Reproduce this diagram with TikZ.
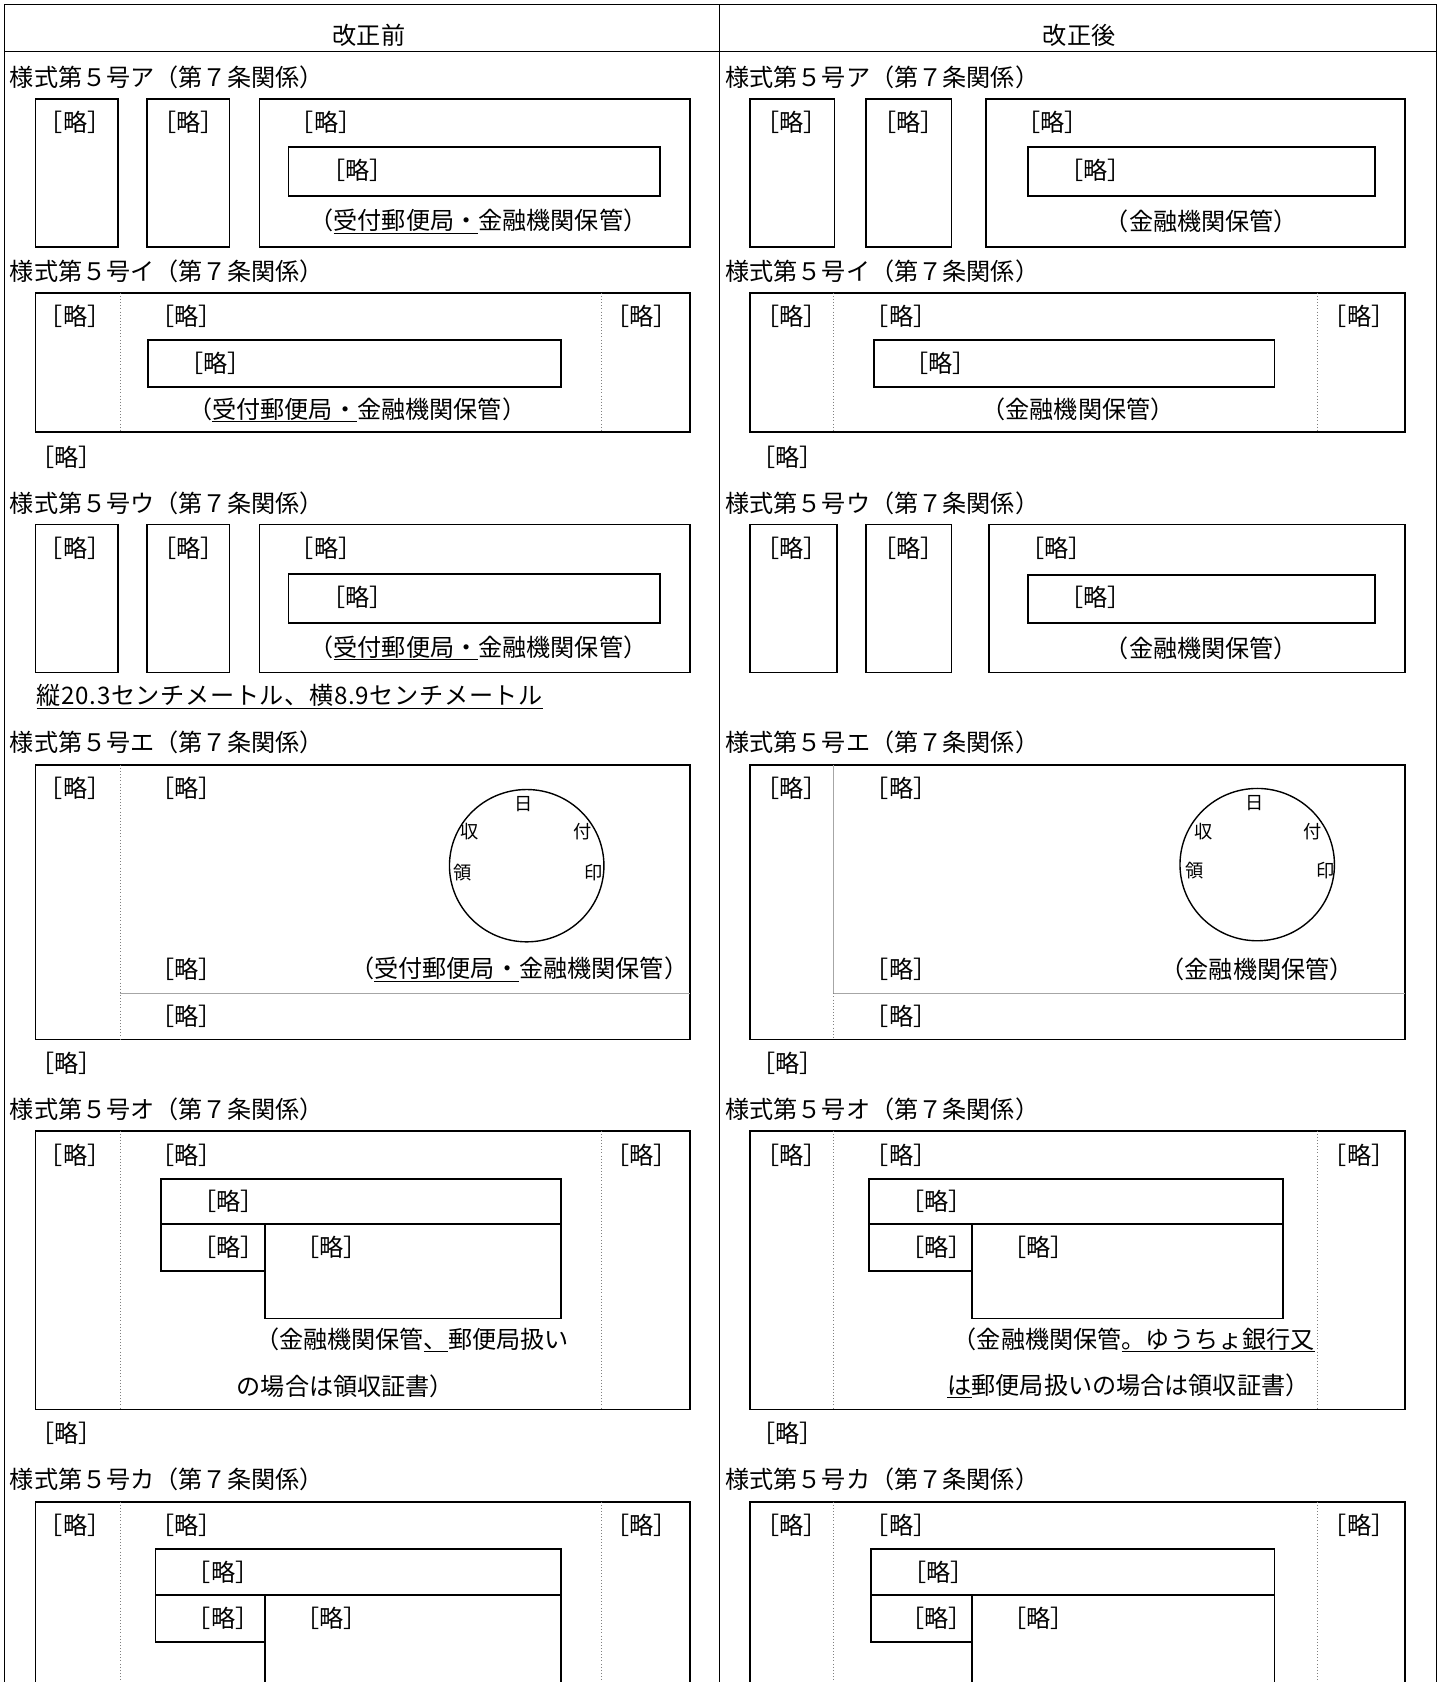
\documentclass[tikz,border=0pt]{standalone}
\usepackage{fontspec}
\setmainfont{Noto Sans CJK JP}
\newcommand\ryk{［略］}
\begin{document}
\begin{tikzpicture}[x=1pt,y=-1pt,
  frame/.style={line width=1.3pt},
  bx/.style={line width=1.6pt},
  sep/.style={dotted, gray, line width=0.9pt},
  gline/.style={gray!70, line width=1pt},
  t/.style={inner sep=0pt, font=\fontsize{22.5}{26}\selectfont},
  ttl/.style={t, anchor=west},
  sm/.style={inner sep=0pt, font=\fontsize{17}{19}\selectfont}]
\useasboundingbox (0,0) rectangle (1345,1568);
% outer table
\draw[frame] (4,1568) -- (4,4) -- (1339,4) -- (1339,1568);
\draw[frame] (671,4) -- (671,1568);
\draw[frame] (4,48) -- (1339,48);
\node[t] (hL) at (344,33) {改正前};
\node[t] (hR) at (1006,33) {改正後};

% ================= LEFT COLUMN =================
% --- ア
\node[ttl] (LtA) at (9,72) {様式第５号ア（第７条関係）};
\draw[bx] (33,92) rectangle (110,230);
\draw[bx] (137,92) rectangle (214,230);
\draw[bx] (242,92) rectangle (643,230);
\draw[bx] (269,137) rectangle (615,183);
\node[t] (LA1) at (70,114) {\ryk};
\node[t] (LA2) at (176,114) {\ryk};
\node[t] (LA3) at (304,114) {\ryk};
\node[t] (LA4) at (333,159) {\ryk};
\node[t] (LA5) at (446,206) {（\underline{受付郵便局・}金融機関保管）};
% --- イ
\node[ttl] (LtI) at (9,253) {様式第５号イ（第７条関係）};
\draw[bx] (33,273) rectangle (643,403);
\draw[sep] (112,273) -- (112,403);
\draw[sep] (561,273) -- (561,403);
\draw[bx] (138,317) rectangle (523,361);
\node[t] (LI1) at (70,295) {\ryk};
\node[t] (LI2) at (174,295) {\ryk};
\node[t] (LI3) at (598,295) {\ryk};
\node[t] (LI4) at (201,339) {\ryk};
\node[t] (LI5) at (333,382) {（\underline{受付郵便局・}金融機関保管）};
\node[t] (LI6) at (62,426) {\ryk};
% --- ウ
\node[ttl] (LtU) at (9,469) {様式第５号ウ（第７条関係）};
\draw[bx] (33,489) rectangle (110,627);
\draw[bx] (137,489) rectangle (214,627);
\draw[bx] (242,489) rectangle (643,627);
\draw[bx] (269,535) rectangle (615,581);
\node[t] (LU1) at (70,511) {\ryk};
\node[t] (LU2) at (176,511) {\ryk};
\node[t] (LU3) at (304,511) {\ryk};
\node[t] (LU4) at (333,557) {\ryk};
\node[t] (LU5) at (446,604) {（\underline{受付郵便局・}金融機関保管）};
\node[ttl] (LU6) at (34,649) {\addfontfeature{LetterSpace=2.8}\underline{縦20.3センチメートル、横8.9センチメートル}};
% --- エ
\node[ttl] (LtE) at (9,692) {様式第５号エ（第７条関係）};
\draw[bx] (33,713) rectangle (643,969);
\draw[sep] (112,713) -- (112,969);
\draw[gline] (112,926) -- (643,926);
\node[t] (LE1) at (70,735) {\ryk};
\node[t] (LE2) at (174,735) {\ryk};
\node[t] (LE3) at (174,904) {\ryk};
\node[t] (LE4) at (174,947) {\ryk};
\node[t] (LE5) at (484,904) {（\underline{受付郵便局・}金融機関保管）};
\node[t] (LE6) at (62,991) {\ryk};
\begin{scope}[shift={(491,807)}]
\draw[line width=1.3pt] (0,0) ellipse [x radius=72pt, y radius=71pt];
\node[sm] (LEc1) at (-3,-57) {日};
\node[sm] (LEc2) at (-53,-32) {収};
\node[sm] (LEc3) at (52,-32) {付};
\node[sm] (LEc4) at (-60,6) {領};
\node[sm] (LEc5) at (62,6) {印};
\end{scope}
% --- オ
\node[ttl] (LtO) at (9,1034) {様式第５号オ（第７条関係）};
\draw[bx] (33,1054) rectangle (643,1314);
\draw[sep] (112,1054) -- (112,1314);
\draw[sep] (561,1054) -- (561,1314);
\draw[bx] (150,1099) rectangle (523,1141);
\draw[bx] (150,1141) rectangle (247,1185);
\draw[bx] (247,1141) rectangle (523,1229);
\node[t] (LO1) at (70,1077) {\ryk};
\node[t] (LO2) at (174,1077) {\ryk};
\node[t] (LO3) at (598,1077) {\ryk};
\node[t] (LO4) at (213,1120) {\ryk};
\node[t] (LO5) at (213,1163) {\ryk};
\node[t] (LO6) at (309,1163) {\ryk};
\node[t] (LO7) at (384,1249) {（金融機関保管\underline{、}郵便局扱い};
\node[t] (LO8) at (322,1292) {の場合は領収証書）};
\node[t] (LO9) at (62,1336) {\ryk};
% --- カ
\node[ttl] (LtK) at (9,1379) {様式第５号カ（第７条関係）};
\draw[bx] (33,1568) -- (33,1400) -- (643,1400) -- (643,1568);
\draw[sep] (112,1400) -- (112,1568);
\draw[sep] (561,1400) -- (561,1568);
\draw[bx] (145,1444) rectangle (523,1487);
\draw[bx] (145,1487) rectangle (247,1531);
\draw[bx] (247,1568) -- (247,1487) -- (523,1487) -- (523,1568);
\node[t] (LK1) at (70,1422) {\ryk};
\node[t] (LK2) at (174,1422) {\ryk};
\node[t] (LK3) at (598,1422) {\ryk};
\node[t] (LK4) at (208,1466) {\ryk};
\node[t] (LK5) at (208,1509) {\ryk};
\node[t] (LK6) at (309,1509) {\ryk};

% ================= RIGHT COLUMN =================
% --- ア
\node[ttl] (RtA) at (676,72) {様式第５号ア（第７条関係）};
\draw[bx] (699,92) rectangle (778,230);
\draw[bx] (807,92) rectangle (887,230);
\draw[bx] (919,92) rectangle (1310,230);
\draw[bx] (958,137) rectangle (1282,183);
\node[t] (RA1) at (738,114) {\ryk};
\node[t] (RA2) at (847,114) {\ryk};
\node[t] (RA3) at (981,114) {\ryk};
\node[t] (RA4) at (1021,159) {\ryk};
\node[t] (RA5) at (1120,206) {（金融機関保管）};
% --- イ
\node[ttl] (RtI) at (676,253) {様式第５号イ（第７条関係）};
\draw[bx] (699,273) rectangle (1310,403);
\draw[sep] (777,273) -- (777,403);
\draw[sep] (1228,273) -- (1228,403);
\draw[bx] (815,317) rectangle (1188,361);
\node[t] (RI1) at (738,295) {\ryk};
\node[t] (RI2) at (840,295) {\ryk};
\node[t] (RI3) at (1267,295) {\ryk};
\node[t] (RI4) at (877,339) {\ryk};
\node[t] (RI5) at (1005,382) {（金融機関保管）};
\node[t] (RI6) at (734,426) {\ryk};
% --- ウ
\node[ttl] (RtU) at (676,469) {様式第５号ウ（第７条関係）};
\draw[bx] (699,489) rectangle (780,627);
\draw[bx] (807,489) rectangle (887,627);
\draw[bx] (922,489) rectangle (1310,627);
\draw[bx] (958,536) rectangle (1282,581);
\node[t] (RU1) at (738,511) {\ryk};
\node[t] (RU2) at (847,511) {\ryk};
\node[t] (RU3) at (985,511) {\ryk};
\node[t] (RU4) at (1021,557) {\ryk};
\node[t] (RU5) at (1120,604) {（金融機関保管）};
% --- エ
\node[ttl] (RtE) at (676,692) {様式第５号エ（第７条関係）};
\draw[bx] (699,713) rectangle (1310,969);
\draw[gline] (777,713) -- (777,926);
\draw[sep] (777,926) -- (777,969);
\draw[gline] (777,926) -- (1310,926);
\node[t] (RE1) at (738,735) {\ryk};
\node[t] (RE2) at (840,735) {\ryk};
\node[t] (RE3) at (840,904) {\ryk};
\node[t] (RE4) at (840,947) {\ryk};
\node[t] (RE5) at (1172,904) {（金融機関保管）};
\node[t] (RE6) at (734,991) {\ryk};
\begin{scope}[shift={(1172,806)}]
\draw[line width=1.3pt] (0,0) ellipse [x radius=72pt, y radius=71pt];
\node[sm] (REc1) at (-2,-57) {日};
\node[sm] (REc2) at (-50,-31) {収};
\node[sm] (REc3) at (52,-31) {付};
\node[sm] (REc4) at (-58,6) {領};
\node[sm] (REc5) at (64,6) {印};
\end{scope}
% --- オ
\node[ttl] (RtO) at (676,1034) {様式第５号オ（第７条関係）};
\draw[bx] (699,1054) rectangle (1310,1314);
\draw[sep] (777,1054) -- (777,1314);
\draw[sep] (1228,1054) -- (1228,1314);
\draw[bx] (810,1099) rectangle (1196,1141);
\draw[bx] (810,1141) rectangle (906,1185);
\draw[bx] (906,1141) rectangle (1196,1229);
\node[t] (RO1) at (738,1077) {\ryk};
\node[t] (RO2) at (840,1077) {\ryk};
\node[t] (RO3) at (1267,1077) {\ryk};
\node[t] (RO4) at (873,1120) {\ryk};
\node[t] (RO5) at (873,1163) {\ryk};
\node[t] (RO6) at (968,1163) {\ryk};
\node[t] (RO7) at (1057,1249) {（金融機関保管\underline{。ゆうちょ銀行又}};
\node[t] (RO8) at (1052,1292) {\underline{は}郵便局扱いの場合は領収証書）};
\node[t] (RO9) at (734,1336) {\ryk};
% --- カ
\node[ttl] (RtK) at (676,1379) {様式第５号カ（第７条関係）};
\draw[bx] (699,1568) -- (699,1400) -- (1310,1400) -- (1310,1568);
\draw[sep] (777,1400) -- (777,1568);
\draw[sep] (1228,1400) -- (1228,1568);
\draw[bx] (812,1444) rectangle (1188,1487);
\draw[bx] (812,1487) rectangle (906,1531);
\draw[bx] (906,1568) -- (906,1487) -- (1188,1487) -- (1188,1568);
\node[t] (RK1) at (738,1422) {\ryk};
\node[t] (RK2) at (840,1422) {\ryk};
\node[t] (RK3) at (1267,1422) {\ryk};
\node[t] (RK4) at (875,1466) {\ryk};
\node[t] (RK5) at (873,1509) {\ryk};
\node[t] (RK6) at (968,1509) {\ryk};
\end{tikzpicture}
\end{document}
